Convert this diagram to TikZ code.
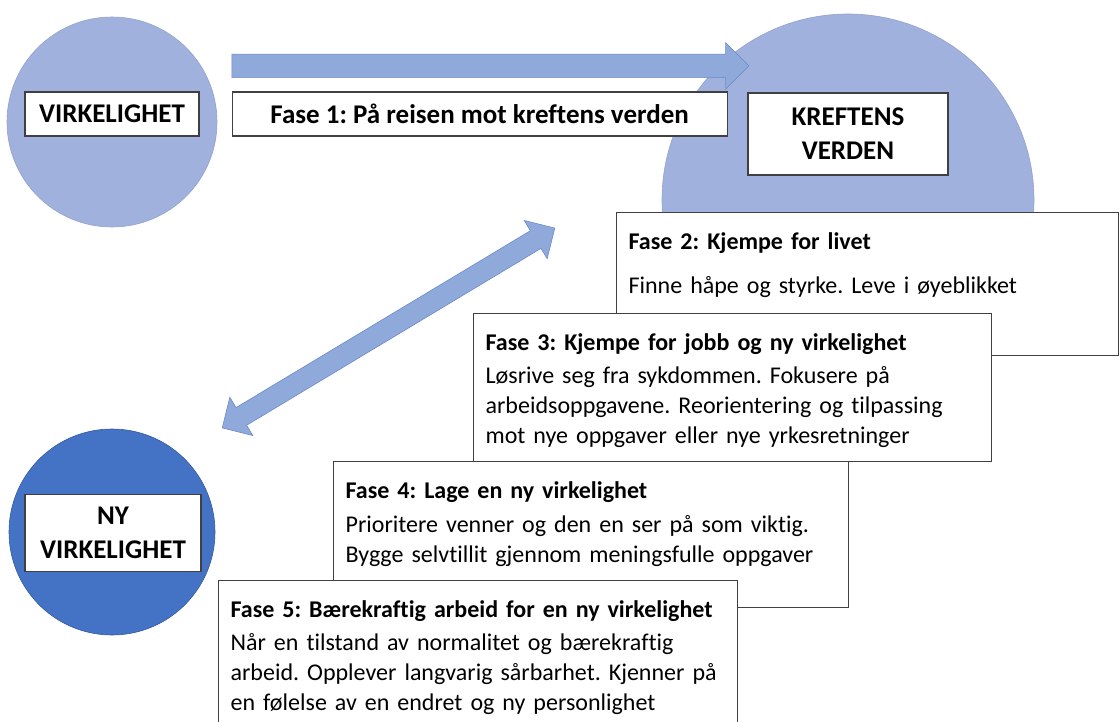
\documentclass[tikz,border=0pt]{standalone}
\usepackage{fontspec}
\setmainfont{Carlito}[RawFeature={-liga;-calt;-clig}]
\usepackage{tikz}
\usetikzlibrary{shapes.arrows,positioning}
\definecolor{paleblue}{RGB}{160,177,221}
\definecolor{arrowblue}{RGB}{143,169,219}
\definecolor{arrowedge}{RGB}{108,138,200}
\definecolor{deepblue}{RGB}{68,114,196}
\definecolor{boxgray}{RGB}{64,64,64}
\frenchspacing

\begin{document}
\begin{tikzpicture}[x=1pt, y=-1pt,
    world/.style={circle, fill=paleblue, draw=paleblue!92!black, line width=0.6pt, inner sep=0pt},
    namebox/.style={draw=boxgray, fill=white, line width=1.2pt, inner sep=0pt, align=center,
        font=\bfseries\fontsize{27}{34}\selectfont},
    phase/.style={draw=boxgray, fill=white, line width=1.2pt, anchor=north west, align=left,
        inner xsep=12pt, inner ysep=10pt, text height=27pt, font=\fontsize{24}{30}\selectfont},
    fatarrow/.style={fill=arrowblue, draw=arrowedge, line width=0.6pt, inner sep=0pt}]
    \useasboundingbox (0,0) rectangle (1120,722);

    % the three worlds
    \node[world, minimum size=210pt]                  (v)  at (112,122) {};
    \node[world, minimum size=372pt]                  (kv) at (848,200) {};
    \node[world, minimum size=206pt, fill=deepblue,
          draw=deepblue!80!black]                     (nv) at (112,532) {};

    \node[namebox, minimum width=174pt, minimum height=44pt] (vl) at (112,114) {VIRKELIGHET};
    \node[namebox, minimum width=495pt, minimum height=44pt, right=32pt of vl] (f1)
        {Fase 1: På reisen mot kreftens verden};
    \node[fatarrow, single arrow, anchor=tail, minimum height=517pt, inner ysep=11.5pt,
          single arrow head extend=11.5pt]            (a1) at ([yshift=25.5pt]f1.north west) {};
    \node[namebox, minimum width=200pt, minimum height=82pt] (kl) at (848,134) {KREFTENS\\VERDEN};
    \node[namebox, minimum width=176pt, minimum height=77pt] (nl) at (113,533) {NY\\VIRKELIGHET};

    % back and forth
    \node[fatarrow, double arrow, rotate=31, minimum height=388pt, inner ysep=10pt,
          double arrow head extend=12pt]              (a2) at (388.5,328) {};

    % the phases
    \node[phase, text width=478pt, text depth=96pt]  (f2) at (616,212)
        {\textbf{Fase 2: Kjempe for livet}\\[14pt]
         Finne håpe og styrke. Leve i øyeblikket};
    \node[phase, text width=494pt, text depth=101pt] (f3) at (473,313)
        {\textbf{Fase 3: Kjempe for jobb og ny virkelighet}\\[3pt]
         Løsrive seg fra sykdommen. Fokusere på\\
         arbeidsoppgavene. Reorientering og tilpassing\\
         mot nye oppgaver eller nye yrkesretninger};
    \node[phase, text width=491pt, text depth=99pt]  (f4) at (333,461)
        {\textbf{Fase 4: Lage en ny virkelighet}\\[4pt]
         Prioritere venner og den en ser på som viktig.\\
         Bygge selvtillit gjennom meningsfulle oppgaver};
    \node[phase, text width=495pt, text depth=103pt] (f5) at (218,580)
        {\textbf{Fase 5: Bærekraftig arbeid for en ny virkelighet}\\[3pt]
         Når en tilstand av normalitet og bærekraftig\\
         arbeid. Opplever langvarig sårbarhet. Kjenner på\\
         en følelse av en endret og ny personlighet};
\end{tikzpicture}
\end{document}
